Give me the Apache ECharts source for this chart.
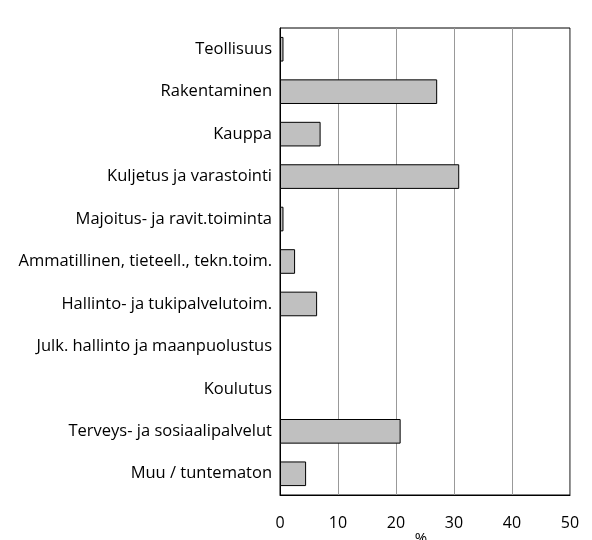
<!DOCTYPE html>
<html>
<head>
<meta charset="utf-8">
<script src="https://cdn.jsdelivr.net/npm/echarts@6/dist/echarts.min.js"></script>
<style>
  html, body { margin: 0; padding: 0; background: #fff; }
  #chart { width: 592px; height: 540px; }
</style>
</head>
<body>
<div id="chart"></div>
<script>
// toimialat ylhäältä alas
const categories = [
    'Teollisuus',
    'Rakentaminen',
    'Kauppa',
    'Kuljetus ja varastointi',
    'Majoitus- ja ravit.toiminta',
    'Ammatillinen, tieteell., tekn.toim.',
    'Hallinto- ja tukipalvelutoim.',
    'Julk. hallinto ja maanpuolustus',
    'Koulutus',
    'Terveys- ja sosiaalipalvelut',
    'Muu / tuntematon'
]
const shares = [0.6, 27.1, 7.0, 30.9, 0.6, 2.6, 6.4, 0, 0, 20.8, 4.5]
const xTicks = [0, 10, 20, 30, 40, 50]

const font = 'Open Sans'

// nollapalkeille ei reunaviivaa
const barData = shares.map(v => (v > 0 ? v : { value: v, itemStyle: { borderWidth: 0 } }))

const chart = echarts.init(document.getElementById('chart'))
chart.setOption({
    animation: false,
    textStyle: { fontFamily: font },
    grid: {
        left: 280,
        right: 22,
        top: 28,
        bottom: 45,
        outerBoundsMode: 'none',
        containLabel: false,
        show: true,
        borderColor: '#000',
        borderWidth: 1
    },
    xAxis: {
        type: 'value',
        min: xTicks[0],
        max: xTicks[xTicks.length - 1],
        interval: 10,
        name: '%',
        nameLocation: 'middle',
        nameGap: 36,
        nameMoveOverlap: false,
        nameTextStyle: { fontFamily: font, fontSize: 15, color: '#000', padding: [0, 8, 0, 0] },
        axisLine: { show: true, lineStyle: { color: '#000', width: 1 } },
        axisTick: { show: false },
        axisLabel: { margin: 20, fontSize: 16, color: '#000', fontFamily: font },
        splitLine: { show: true, lineStyle: { color: '#999', width: 1 } }
    },
    yAxis: {
        type: 'category',
        data: categories,
        inverse: true,
        axisLine: { show: true, lineStyle: { color: '#000', width: 1 } },
        axisTick: { show: false },
        axisLabel: { margin: 8, fontSize: 16.5, color: '#000', fontFamily: font, interval: 0 },
        splitLine: { show: false }
    },
    series: [
        {
            type: 'bar',
            data: barData,
            barWidth: '58%',
            itemStyle: {
                color: '#c0c0c0',
                borderColor: '#000',
                borderWidth: 1
            }
        }
    ]
})
</script>
</body>
</html>
